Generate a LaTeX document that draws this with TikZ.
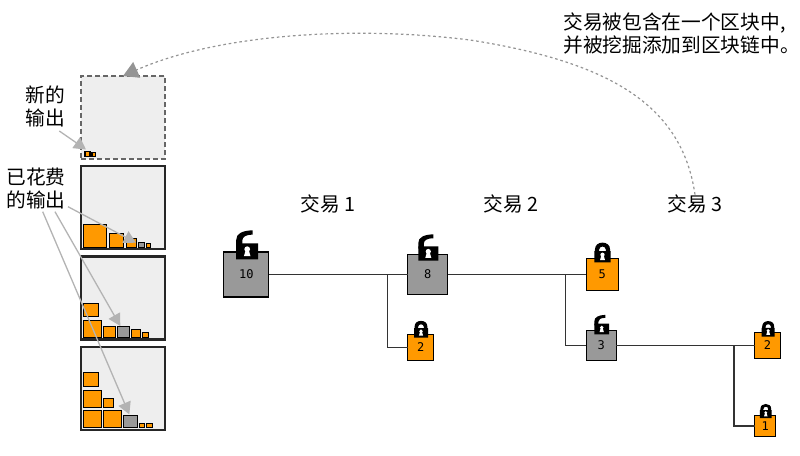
\documentclass[tikz,border=0pt]{standalone}
\usepackage{fontspec}
\newfontfamily\cjk{Noto Sans CJK SC}
\newfontfamily\monof{DejaVu Sans Mono}
\usetikzlibrary{arrows.meta,positioning}
\definecolor{outorange}{HTML}{FF9900}
\definecolor{spentgray}{HTML}{999999}
\definecolor{blockfill}{HTML}{EEEEEE}
\definecolor{pointergray}{HTML}{B3B3B3}
\tikzset{
	coin/.style={draw=black,line width=1.1pt,inner sep=0pt,outer sep=0pt,font=\monof\fontsize{12}{12}\selectfont},
	outcoin/.style={coin,fill=outorange},
	spentcoin/.style={coin,fill=spentgray},
	block/.style={fill=blockfill,draw=black!85,line width=2.7pt,minimum width=84pt,minimum height=83pt,inner sep=0pt,outer sep=0pt},
	newblock/.style={block,draw=black!60,line width=2.8pt,dash pattern=on 5pt off 3pt},
	label/.style={font=\cjk\fontsize{19.7}{23.5}\selectfont,inner sep=0pt,align=center},
	wire/.style={draw=black!80,line width=1.6pt},
	pointer/.style={draw=pointergray,line width=1.3pt,-{Triangle[length=12pt,width=13pt,fill=pointergray]}},
	minedarrow/.style={draw=black!42,line width=1.2pt,dash pattern=on 2.6pt off 2.8pt,-{Triangle[length=15pt,width=17pt,fill=black!42,sep=0pt]}},
	lockshut/.pic={
		\fill[black,rounded corners=.08] (-.5,0) rectangle (.5,-.68);
		\fill[black,even odd rule] (-.46,-.6) -- (-.46,-.78) .. controls (-.46,-1.06) and (-.25,-1.2) .. (0,-1.2) .. controls (.25,-1.2) and (.46,-1.06) .. (.46,-.78) -- (.46,-.6) -- cycle
			(-.2,-.6) -- (.2,-.6) -- (.2,-.78) .. controls (.2,-.9) and (.1,-.96) .. (0,-.96) .. controls (-.1,-.96) and (-.2,-.9) .. (-.2,-.78) -- cycle;
		\fill[white] (0,-.46) circle (.13);
		\fill[white] (-.07,-.42) -- (.07,-.42) -- (.15,-.14) -- (-.15,-.14) -- cycle;
	},
	lockopen/.pic={
		\fill[black,rounded corners=.08] (-.5,0) rectangle (.5,-.72);
		\fill[black] (-.5,-.6) -- (-.5,-.88) .. controls (-.5,-1.16) and (-.25,-1.3) .. (.25,-1.32) -- (.25,-1.12) .. controls (-.1,-1.12) and (-.22,-1) .. (-.22,-.86) -- (-.22,-.6) -- cycle;
		\fill[white] (0,-.46) circle (.13);
		\fill[white] (-.07,-.42) -- (.07,-.42) -- (.15,-.14) -- (-.15,-.14) -- cycle;
	}
}
\begin{document}
\begin{tikzpicture}[x=1pt,y=-1pt]
	\useasboundingbox (0,0) rectangle (800,455);

	\node[newblock] (blk1) at (123,117.5) {};
	\node[block] (blk2) [below=7pt of blk1] {};
	\node[block] (blk3) [below=7.5pt of blk2] {};
	\node[block] (blk4) [below=7.5pt of blk3] {};

	\foreach \i/\px/\py/\w/\h/\k in {
		a/85/156.2/5/4.6/outcoin, b/92/156.2/3.6/3.4/outcoin,
		c/83.8/247.8/22.4/23/outcoin, d/109.8/247.8/13.4/14/outcoin, e/126.8/247.8/9.4/9.6/outcoin,
		f/138.8/247.8/5.4/5/spentcoin, g/146.8/247.8/3.4/4/outcoin,
		h/83.8/316.8/14.4/13/outcoin, i/83.8/337.8/17.4/17/outcoin, j/103.8/337.8/11.4/11/outcoin,
		k/117.8/337.8/11.4/11/spentcoin, l/131.5/337.8/8.7/8.3/outcoin, m/142.8/337.8/5.4/5/outcoin,
		n/83.8/386.8/14.4/14/outcoin, o/83.8/407.8/17.4/17/outcoin, p/103.8/407.8/9.4/9.3/outcoin,
		q/83.8/427.8/17.4/17/outcoin, r/103.8/427.8/17.4/17/outcoin, s/123.8/427.8/13.4/12/spentcoin,
		t/139.8/427.8/4.4/4/outcoin, u/146.8/427.8/5.4/4/outcoin}
		\node[\k,minimum width=\w pt,minimum height=\h pt,anchor=south west] (c\i) at (\px,\py) {};

	\node[spentcoin,minimum size=45pt] (q10) at (246.3,274.5) {10};
	\node[spentcoin,minimum size=40pt] (q8) [right=139pt of q10] {8};
	\node[outcoin,minimum size=32pt] (q5) [right=138.5pt of q8] {5};
	\node[outcoin,minimum size=26pt] (q2a) [below right=40pt and 0pt of q8.south west] {2};
	\node[spentcoin,minimum size=30pt] (q3) [below right=40pt and 0pt of q5.south west] {3};
	\node[outcoin,minimum size=25.5pt] (q2b) [right=138.5pt of q3] {2};
	\node[outcoin,minimum size=21pt] (q1) [below right=57pt and 0pt of q2b.south west] {1};

	\coordinate[left=20.3pt of q8] (j8);
	\coordinate[left=21pt of q5] (j5);
	\coordinate[left=21pt of q2b] (j2);

	\path[wire]
	(q10) edge (q8)
	(q8) edge (q5)
	(q3) edge (q2b)
	(j8) edge [to path={|- (\tikztotarget)}] (q2a)
	(j5) edge [to path={|- (\tikztotarget)}] (q3)
	(j2) edge [to path={|- (\tikztotarget)}] (q1)
	;

	\pic[scale=22] (lk10) at (247.2,259.3) {lockopen};
	\pic[scale=20] (lk8) at (428.3,260.7) {lockopen};
	\pic[scale=14] (lk2a) at (421,337.7) {lockshut};
	\pic[scale=16.4] (lk5) at (602.5,262.3) {lockshut};
	\pic[scale=14.7] (lk3) at (601.7,334.3) {lockopen};
	\pic[scale=13] (lk2b) at (768.2,336.7) {lockshut};
	\pic[scale=11.7] (lk1) at (765.8,418) {lockshut};

	\node[label] (lblnew) at (45,106.5) {新的\\输出};
	\node[label] (lblspent) at (36,188.5) {已花费\\的输出};
	\node[label] (tx1) at (328,204) {交易 1};
	\node[label] (tx2) at (511,204) {交易 2};
	\node[label] (tx3) at (695,204) {交易 3};
	\node[label,align=left] (lblmined) at (681.5,33.5) {交易被包含在一个区块中,\\并被挖掘添加到区块链中。};

	\coordinate (newstart) at (59.3,131);
	\coordinate (newtip) at (86,149.5);
	\coordinate (spentstartA) at (68,206.7);
	\coordinate (spenttipA) at (136,242.7);
	\coordinate (spentstartB) at (55,211.7);
	\coordinate (spenttipB) at (120.3,326);
	\coordinate (spentstartC) at (42.7,211.7);
	\coordinate (spenttipC) at (129.3,414.3);

	\draw[pointer] (newstart) -- (newtip);
	\draw[pointer] (spentstartA) -- (spenttipA);
	\draw[pointer] (spentstartB) -- (spenttipB);
	\draw[pointer] (spentstartC) -- (spenttipC);

	\draw[minedarrow] (tx3.north) .. controls (682,105) and (610,62) .. (470,40) .. controls (350,25) and (215,35) .. (blk1.north);
\end{tikzpicture}
\end{document}
